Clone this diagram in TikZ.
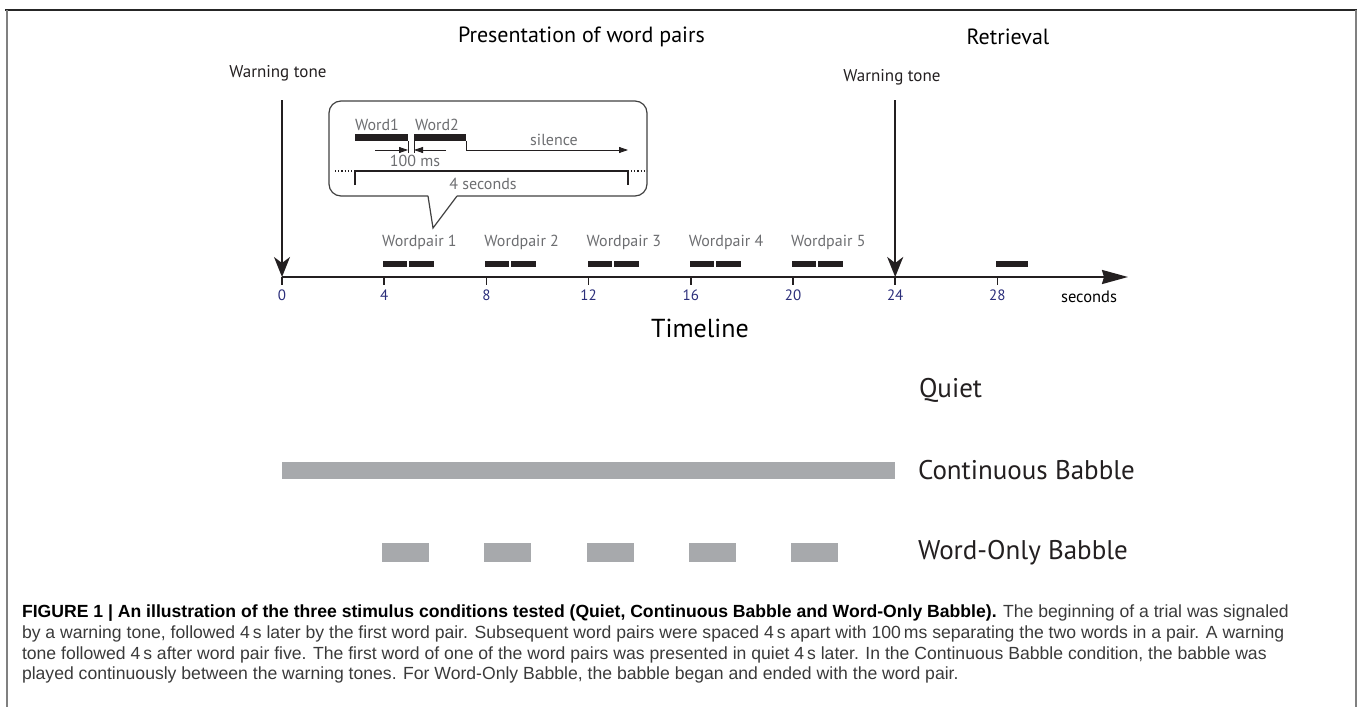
\documentclass[tikz,border=0pt]{standalone}
\usepackage{fontspec}
\setmainfont{PT Sans}
\newfontfamily\capfont{Liberation Sans}
\usepackage{tikz}
\usetikzlibrary{arrows.meta,positioning,calc}
\definecolor{tickblue}{HTML}{2B2E7A}
\definecolor{labelgray}{HTML}{6D6E71}
\definecolor{babblegray}{HTML}{A7A9AC}
\definecolor{barblack}{HTML}{231F20}
\definecolor{captiongray}{HTML}{3A3A3A}
\newcommand{\setfs}[1]{\fontsize{#1}{#1}\selectfont}

\begin{document}
\begin{tikzpicture}[x=1pt, y=-1pt,
    every node/.style={inner sep=0pt, outer sep=0pt},
    ticklab/.style={font=\setfs{15}, text=tickblue},
    pairlab/.style={font=\setfs{16}, text=labelgray, anchor=west},
    innerlab/.style={font=\setfs{16}, text=labelgray},
    cond/.style={font=\setfs{27}, text=barblack, anchor=west},
    tone/.style={font=\setfs{17}, text=barblack},
    toneline/.style={line width=2pt, barblack, -{Stealth[length=20pt, width=16pt, inset=6pt]}},
    smallhead/.style={line width=0.8pt, barblack, -{Triangle[length=9pt, width=6pt]}},
    callout/.style={line width=1.2pt, black!75},
    caption/.style={font=\capfont\setfs{17.6}, text=captiongray, anchor=west}]
    \useasboundingbox (0,0) rectangle (1358,707);

        % frame
        \draw[line width=1.5pt, black!85] (5,10) -- (1357,10);
        \draw[line width=1.5pt, gray] (7,10) -- (7,707);
        \draw[line width=2pt, gray] (1356,10) -- (1356,707);

        % headings
        \node[font=\setfs{22}, anchor=west] (present) at (458,37) {Presentation of word pairs};
        \node[font=\setfs{22}] (retrieval) at (1008,37) {Retrieval};

        % timeline
        \foreach \t in {0,4,...,28} {
            \coordinate (t\t) at ({282+25.55*\t},277);
        }
        \coordinate (axisend) at (1128,277);
        \draw[line width=2pt, barblack, -{Stealth[length=26pt, width=14pt, inset=2pt]}] (t0) -- (axisend);
        \foreach \t in {0,4,...,28} {
            \draw[line width=1.5pt, barblack] (t\t) -- ++(0,8);
            \node[ticklab] (lab\t) at ($(t\t)+(0,18)$) {\t};
        }
        \node[font=\setfs{16.5}] (secs) at (1089,297) {seconds};
        \node[font=\setfs{26}] (timeline) at (700,328) {Timeline};

        % warning tones
        \node[tone] (tone0) at (278,73) {Warning tone};
        \coordinate (tone0top) at (282,100);
        \draw[toneline] (tone0top) -- (t0);
        \node[tone] (tone24) at (892,77) {Warning tone};
        \coordinate (tone24top) at ($(t24)+(0,-177)$);
        \draw[toneline] (tone24top) -- (t24);

        % word pairs
        \foreach \k [evaluate=\k as \t using int(4*\k)] in {1,...,5} {
            \fill[barblack] ($(t\t)+(-1,-16)$) rectangle ++(24,6);
            \fill[barblack] ($(t\t)+(25,-16)$) rectangle ++(25,6);
            \node[pairlab] (wp\k) at ($(t\t)+(-2,-35)$) {Wordpair \k};
        }
        \fill[barblack] ($(t28)+(-1,-16)$) rectangle ++(32,6);

        % callout with one trial
        \draw[callout] (428,196) -- (433,228) -- (457,196);
        \draw[callout, rounded corners=12pt] (457,196) -- (647,196) -- (647,101) -- (329,101) -- (329,196) -- (428,196);
        \node[innerlab, anchor=west] (word1) at (355,125) {Word1};
        \node[innerlab, anchor=west] (word2) at (415,125) {Word2};
        \fill[barblack] (355,134) rectangle (408,141);
        \fill[barblack] (414,134) rectangle (466,141);
        \draw[line width=0.8pt, barblack] (408,141) -- (408,153);
        \draw[line width=0.8pt, barblack] (414,141) -- (414,153);
        \draw[smallhead] (466,141) -- (466,150) -- (628,150);
        \node[innerlab] (silence) at (554,140) {silence};
        \draw[smallhead] (375,150) -- (408,150);
        \draw[smallhead] (446,150) -- (414,150);
        \node[innerlab] (gap) at (415,161) {100 ms};
        \draw[line width=1.4pt, barblack] (355,185) -- (355,171) -- (628,171) -- (628,185);
        \draw[line width=1.2pt, barblack, dotted] (335,171) -- (352,171);
        \draw[line width=1.2pt, barblack, dotted] (631,171) -- (647,171);
        \node[innerlab] (trial) at (483,184) {4 seconds};

        % babble conditions
        \node[cond] (quiet) at (919,390) {Quiet};
        \node[cond] (cont) at (918,470) {Continuous Babble};
        \node[cond] (wordonly) at (918,553) {Word-Only Babble};
        \fill[babblegray] (282,462) rectangle (895,479);
        \foreach \k [evaluate=\k as \t using int(4*\k)] in {1,...,5} {
            \fill[babblegray] ($(t\t)+(-2,266)$) rectangle ++(47,19);
        }

        % caption
        \node[caption] (cap1) at (22,613) {\textcolor{black}{\textbf{FIGURE 1 | An illustration of the three stimulus conditions tested (Quiet, Continuous Babble and Word-Only Babble).}} The beginning of a trial was signaled};
        \node[caption] (cap2) at (22,634) {by a warning tone, followed 4\,s later by the first word pair. Subsequent word pairs were spaced 4\,s apart with 100\,ms separating the two words in a pair. A warning};
        \node[caption] (cap3) at (22,655) {tone followed 4\,s after word pair five. The first word of one of the word pairs was presented in quiet 4\,s later. In the Continuous Babble condition, the babble was};
        \node[caption] (cap4) at (22,675) {played continuously between the warning tones. For Word-Only Babble, the babble began and ended with the word pair.};

    \end{tikzpicture}
\end{document}
